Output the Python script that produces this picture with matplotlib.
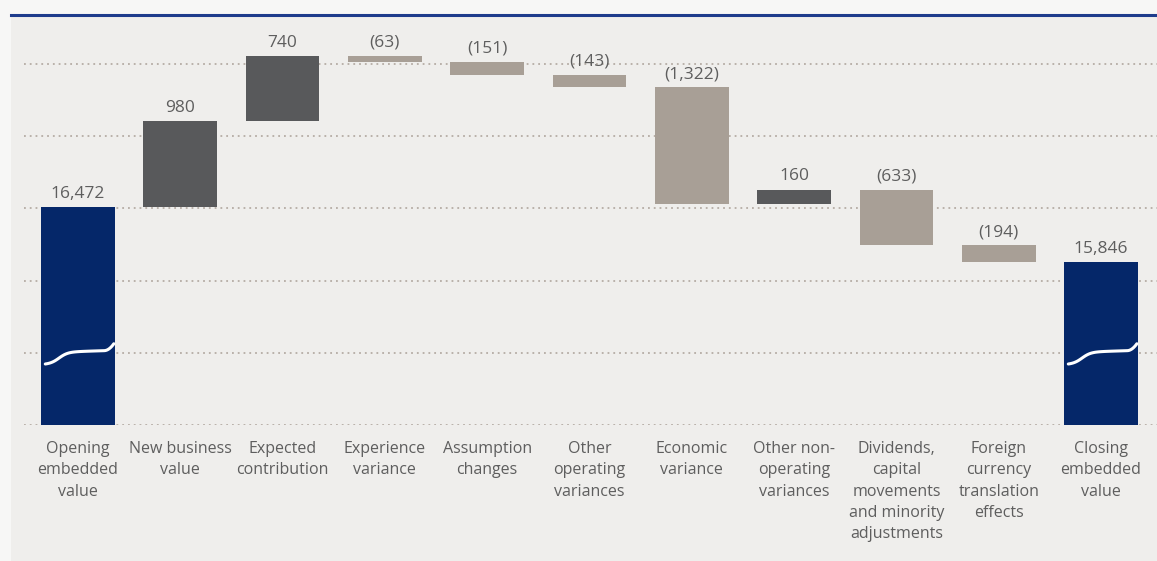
import matplotlib
matplotlib.use("Agg")
import matplotlib.pyplot as plt
import numpy as np
from matplotlib.patches import Rectangle

plt.rcParams["font.family"] = ["Open Sans", "DejaVu Sans"]

# Data
categories = ["Opening\nembedded\nvalue", "New business\nvalue", "Expected\ncontribution",
              "Experience\nvariance", "Assumption\nchanges", "Other\noperating\nvariances",
              "Economic\nvariance", "Other non-\noperating\nvariances",
              "Dividends,\ncapital\nmovements\nand minority\nadjustments",
              "Foreign\ncurrency\ntranslation\neffects", "Closing\nembedded\nvalue"]
opening = 16472
closing = 15846
changes = [980, 740, -63, -151, -143, -1322, 160, -633, -194]
labels = ["16,472", "980", "740", "(63)", "(151)", "(143)", "(1,322)", "160", "(633)", "(194)", "15,846"]

# axis is broken: bars start at this truncated value
axis_base = 14000
grid_step = 820

navy = "#052769"
dark = "#58595b"
taupe = "#a89f96"
text_col = "#5e5e5e"

# waterfall bottoms/heights
bottoms = [axis_base]
heights = [opening - axis_base]
colors = [navy]
running = opening
for c in changes:
    if c >= 0:
        bottoms.append(running)
        heights.append(c)
        colors.append(dark)
    else:
        bottoms.append(running + c)
        heights.append(-c)
        colors.append(taupe)
    running += c
bottoms.append(axis_base)
heights.append(closing - axis_base)
colors.append(navy)

fig = plt.figure(figsize=(11.57, 5.61), dpi=100)
fig.patch.set_facecolor("#f7f7f6")
fig.patches.append(Rectangle((11 / 1157, 0), 1, 546 / 561, transform=fig.transFigure,
                             facecolor="#efeeec", edgecolor="none", zorder=-5))
fig.add_artist(plt.Line2D([11 / 1157, 1], [546.5 / 561, 546.5 / 561], transform=fig.transFigure,
                          color="#1e3c8c", lw=2.2))

ax = fig.add_axes([24 / 1157, 136 / 561, 1133 / 1157, 410 / 561])
ax.set_zorder(3)
ax.set_facecolor("none")
x = np.arange(len(categories))
ax.set_xlim(-0.528, 10.547)
ax.set_ylim(axis_base, axis_base + 410 * 11.36)

for k in range(6):
    ax.axhline(axis_base + k * grid_step, color="#b5aca4", lw=1.3, ls=(0, (1, 2.2)), zorder=1)

ax.bar(x, heights, bottom=bottoms, width=0.72, color=colors, zorder=2)

for xi, b, h, lab in zip(x, bottoms, heights, labels):
    ax.text(xi, b + h + 60, lab, ha="center", va="bottom", fontsize=12.5, color=text_col)

# axis-break squiggles on the navy bars
t = np.linspace(0, 1, 80)
rise = 0.5 * (1 + np.tanh((t - 0.2) / 0.13))
rise = (rise - rise[0]) / (rise[-1] - rise[0])
hook = np.clip((t - 0.86) / 0.14, 0, None) ** 2
for xi in [x[0], x[-1]]:
    sx = xi - 0.32 + 0.67 * t
    sy = axis_base + 693 + 130 * rise + 25 * t + 75 * hook
    ax.plot(sx, sy, color="white", lw=2.2, solid_capstyle="round", zorder=3)

for xi, cat in zip(x, categories):
    ax.text(xi, axis_base - 180, cat, ha="center", va="top", fontsize=11.5, color=text_col,
            linespacing=1.45, clip_on=False)

ax.set_xticks([])
ax.set_yticks([])
for s in ax.spines.values():
    s.set_visible(False)

fig.savefig("out.png", dpi=100, facecolor=fig.get_facecolor())
